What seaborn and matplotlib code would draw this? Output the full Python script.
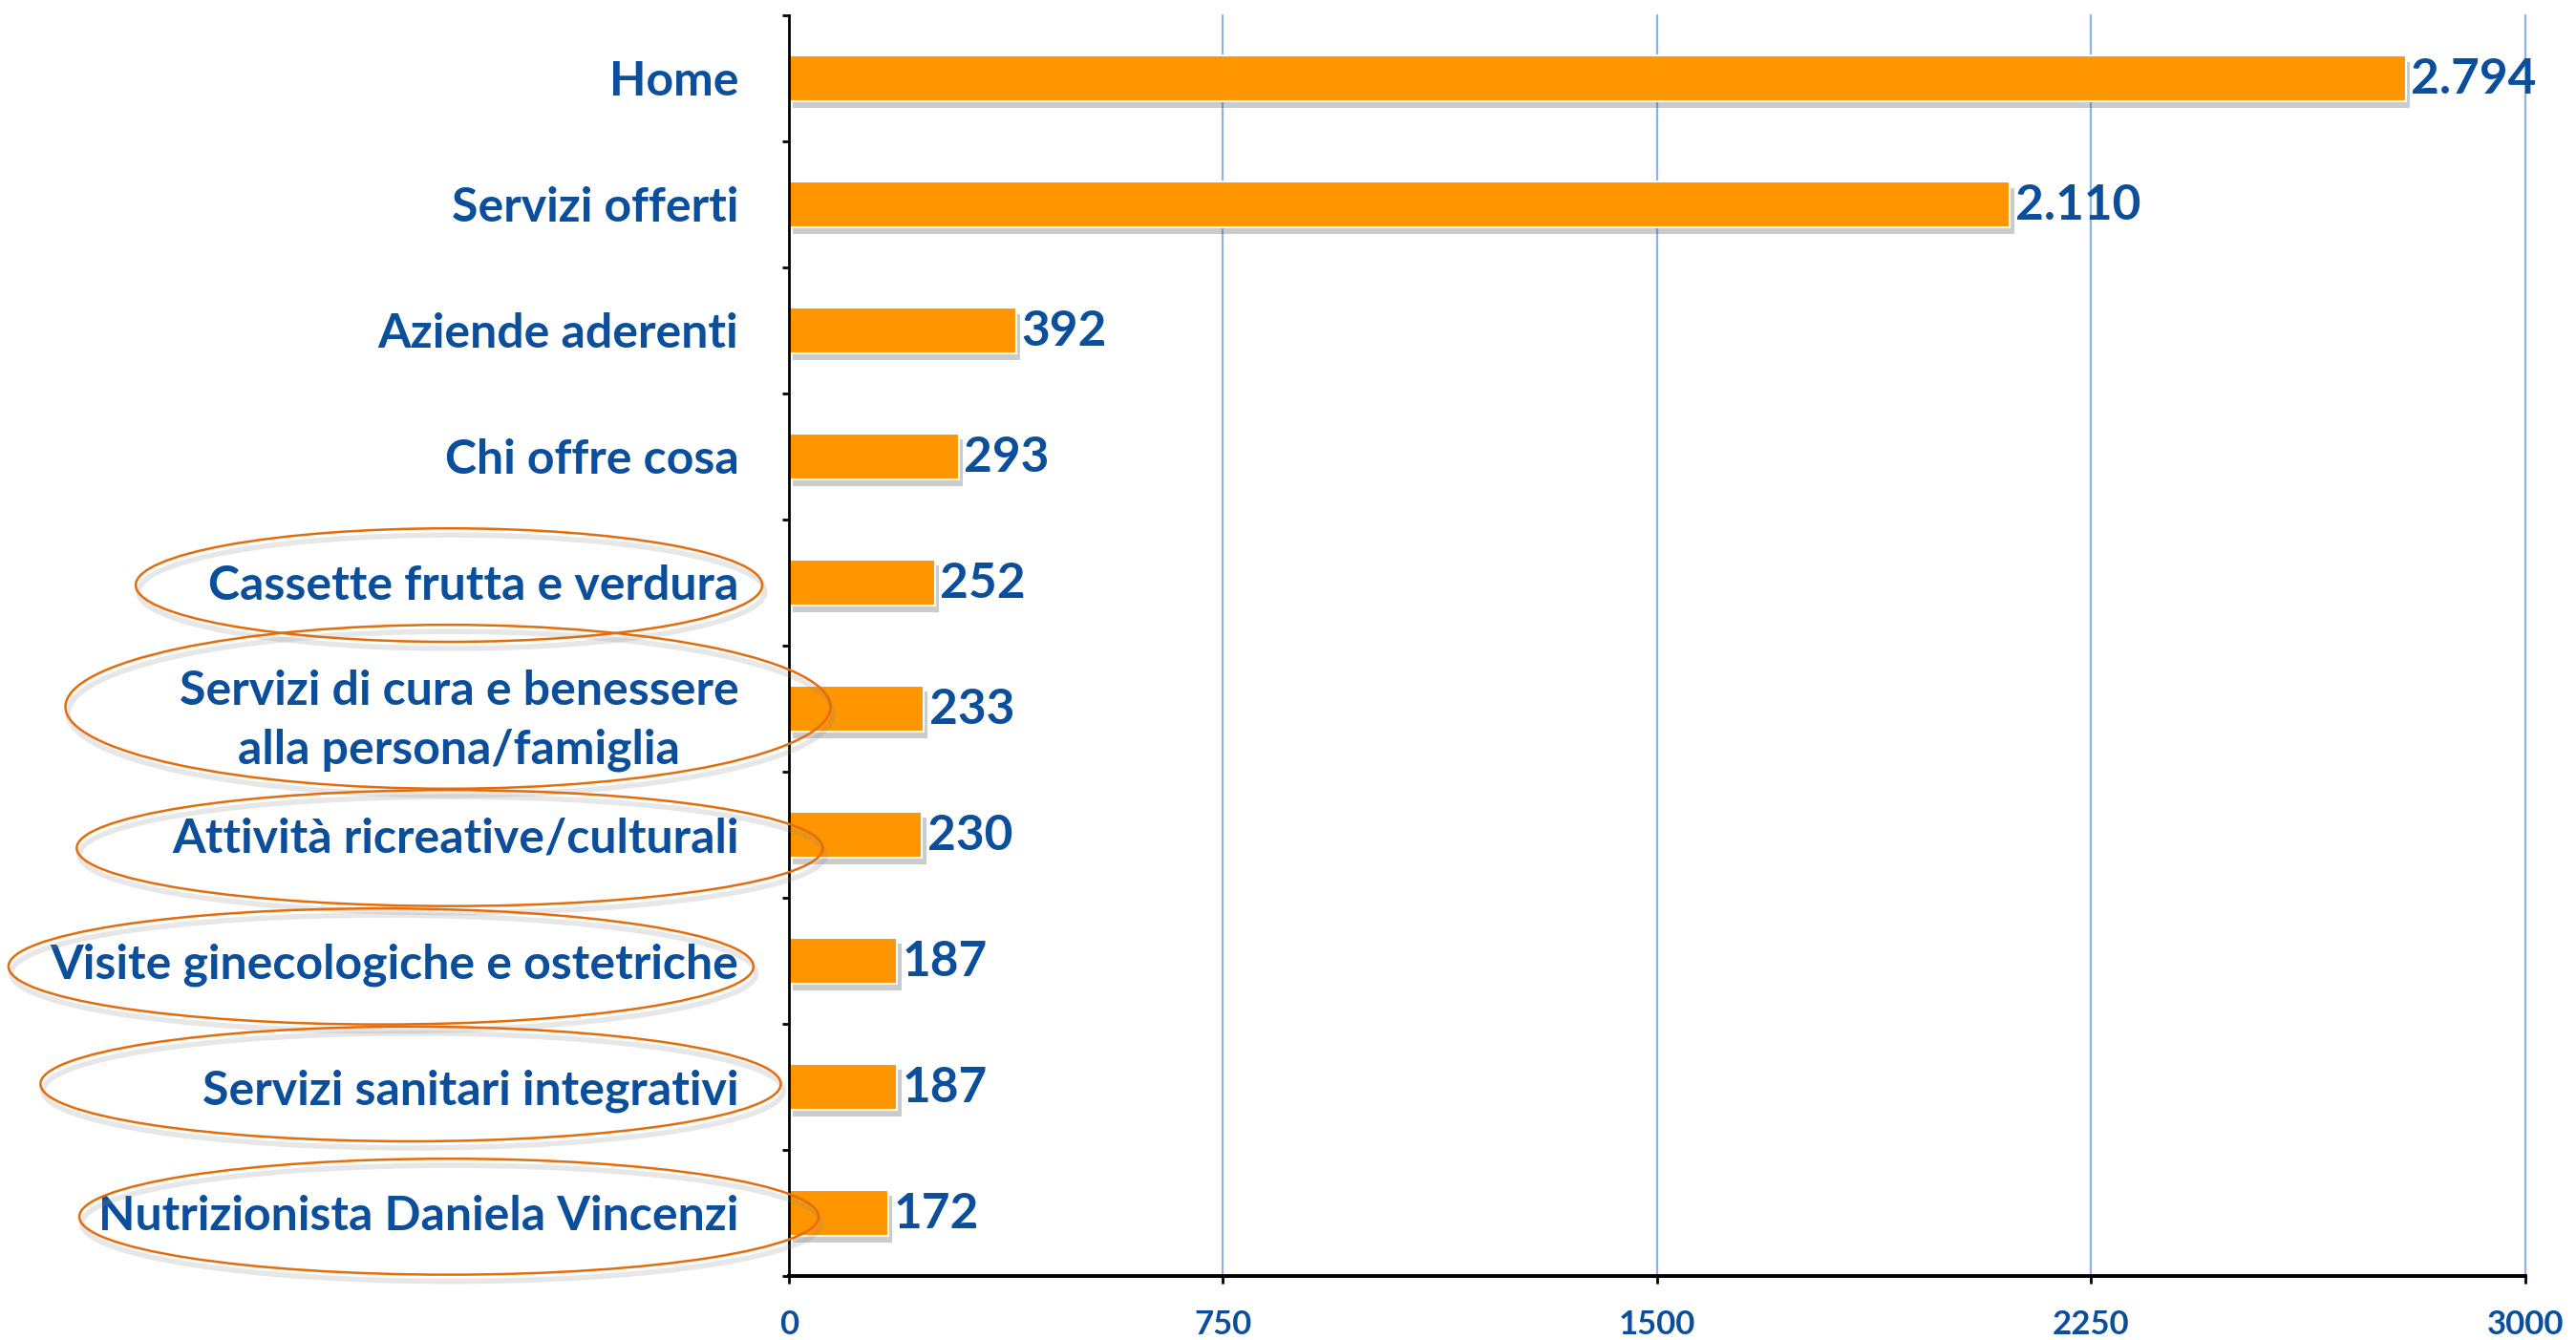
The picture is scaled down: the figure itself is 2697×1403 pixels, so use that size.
import matplotlib
matplotlib.use('Agg')
import matplotlib.pyplot as plt
import matplotlib.patheffects as pe
import matplotlib.transforms as mtransforms
from matplotlib.patches import Ellipse
import seaborn as sns

# Data
categories = ['Home', 'Servizi offerti', 'Aziende aderenti', 'Chi offre cosa',
              'Cassette frutta e verdura',
              'Servizi di cura e benessere\nalla persona/famiglia',
              'Attività ricreative/culturali',
              'Visite ginecologiche e ostetriche',
              'Servizi sanitari integrativi',
              'Nutrizionista Daniela Vincenzi']
visits = [2794, 2110, 392, 293, 252, 233, 230, 187, 187, 172]
x_ticks = [0, 750, 1500, 2250, 3000]

# circled labels: (x centre fig-frac, y centre data, width fig-frac, height data)
circled = [(0.1743, 4.02, 0.2432, 0.90),
           (0.1739, 4.985, 0.297, 1.30),
           (0.1746, 6.106, 0.2896, 0.92),
           (0.1479, 7.045, 0.2892, 0.92),
           (0.1594, 7.977, 0.2874, 0.91),
           (0.1743, 9.03, 0.287, 0.92)]

blue = '#0B4F9C'
orange = '#FF9600'
ring = '#E46C0A'
grid_blue = '#8DB3E2'

sns.set_style('white')
plt.rcParams['font.family'] = ['Lato', 'DejaVu Sans']
plt.rcParams['font.weight'] = 'bold'

fig = plt.figure(figsize=(26.97, 14.03), dpi=100)
ax = fig.add_axes([0.3063, 0.0478, 0.9802 - 0.3063, 0.9886 - 0.0478])

sns.barplot(x=visits, y=categories, orient='h', color=orange, saturation=1,
            width=0.37, edgecolor='white', linewidth=1.5, ax=ax)

shadow = [pe.SimplePatchShadow(offset=(3, -5), shadow_rgbFace='#555555', alpha=0.3),
          pe.Normal()]
for bar in ax.patches:
    bar.set_path_effects(shadow)
    bar.set_zorder(3)

# value labels
for i, v in enumerate(visits):
    ax.annotate(f'{v:,}'.replace(',', '.'), xy=(v, i), xytext=(4, -1),
                textcoords='offset points', va='center', ha='left',
                fontsize=37, fontweight='bold', color=blue, zorder=5)

ax.set_xlim(0, 3000)
ax.set_ylim(len(categories) - 0.5, -0.5)
ax.set_xticks(x_ticks)
ax.set_xticklabels([str(t) for t in x_ticks])
ax.set_yticks([i - 0.5 for i in range(len(categories) + 1)], minor=True)
ax.set_xlabel('')
ax.set_ylabel('')

for xg in x_ticks[1:]:
    ax.axvline(xg, color=grid_blue, lw=1.6, zorder=1, clip_on=False)

ax.spines['top'].set_visible(False)
ax.spines['right'].set_visible(False)
ax.spines['left'].set_color('black')
ax.spines['left'].set_linewidth(2)
ax.spines['bottom'].set_color('black')
ax.spines['bottom'].set_linewidth(2.8)
ax.spines['left'].set_zorder(4)

ax.tick_params(axis='y', which='major', length=0, pad=38, labelsize=36, labelcolor=blue)
ax.tick_params(axis='y', which='minor', left=True, length=5, width=2, color='black', direction='out')
ax.tick_params(axis='x', which='major', bottom=True, length=6, width=2, color='black',
               pad=19, labelsize=25, labelcolor=blue)
for lab in ax.get_yticklabels():
    lab.set_fontweight('bold')
    lab.set_multialignment('center')
    lab.set_linespacing(1.45)
for lab in ax.get_xticklabels():
    lab.set_fontweight('bold')

# orange rings around highlighted labels
trans = mtransforms.blended_transform_factory(fig.transFigure, ax.transData)
ring_shadow = [pe.SimpleLineShadow(offset=(2, -5), shadow_color='#888888', alpha=0.2, linewidth=4),
               pe.Normal()]
for xc, yc, w, h in circled:
    e = Ellipse((xc, yc), w, h, transform=trans, fill=False, edgecolor=ring,
                linewidth=1.8, clip_on=False, zorder=6)
    e.set_path_effects(ring_shadow)
    ax.add_artist(e)

fig.savefig('out.png', dpi=100)
